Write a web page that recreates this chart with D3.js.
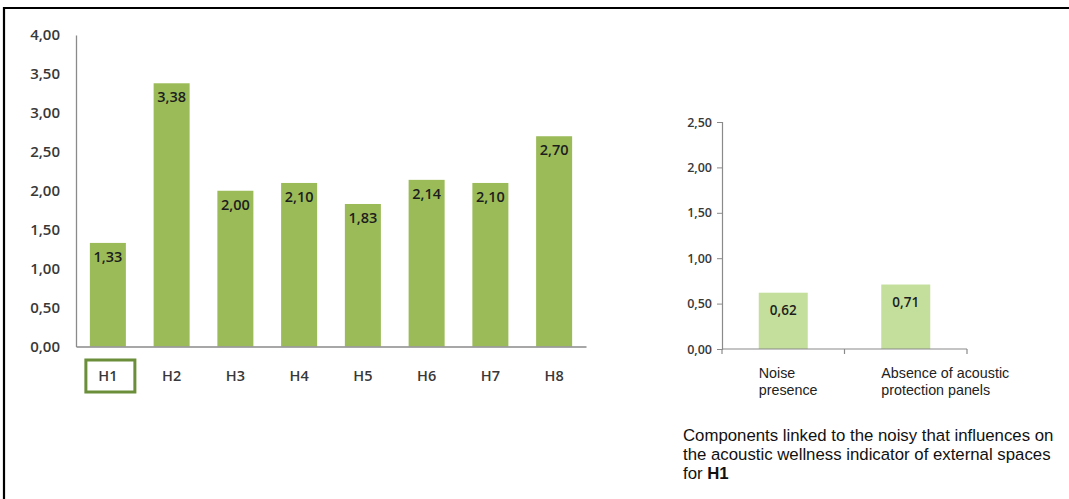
<!DOCTYPE html>
<html>
<head>
<meta charset="utf-8">
<script src="https://cdn.jsdelivr.net/npm/d3@7"></script>
<style>
  html, body { margin: 0; padding: 0; background: #fff; }
  svg { display: block; }
</style>
</head>
<body>
<svg id="chart" width="1069" height="499"></svg>
<script>
// Acoustic wellness indicator per house
const houses = ["H1", "H2", "H3", "H4", "H5", "H6", "H7", "H8"];
const houseValues = [1.33, 3.38, 2.00, 2.10, 1.83, 2.14, 2.10, 2.70];
const mainTicks = [0, 0.5, 1, 1.5, 2, 2.5, 3, 3.5, 4];

// Noise components for the highlighted house
const components = [["Noise", "presence"], ["Absence of acoustic", "protection panels"]];
const componentValues = [0.62, 0.71];
const detailTicks = [0, 0.5, 1, 1.5, 2, 2.5];

const highlighted = "H1";
const captionLines = [
  "Components linked to the noisy that influences on",
  "the acoustic wellness indicator of external spaces",
  "for "
];

const fmt = v => d3.format(".2f")(v).replace(".", ",");
const svg = d3.select("#chart");
const tickFont = "'Open Sans', Lato, sans-serif";
const tickWeight = 600;
const sansFont = "'Liberation Sans', Arial, sans-serif";

// frame
svg.append("path")
  .attr("d", "M4,499 V8 H1069")
  .attr("fill", "none").attr("stroke", "#000").attr("stroke-width", 2.2);

// ---- main chart ----
const m = { left: 76, right: 586, top: 35, bottom: 346.5 };
const x1 = d3.scaleBand().domain(houses).range([m.left, m.right]).paddingInner(0.435).paddingOuter(0.2175);
const y1 = d3.scaleLinear().domain([0, 4]).range([m.bottom, m.top]);

const g1 = svg.append("g");

g1.selectAll("rect.bar").data(houses).join("rect")
  .attr("class", "bar")
  .attr("x", d => x1(d))
  .attr("width", x1.bandwidth())
  .attr("y", (d, i) => y1(houseValues[i]))
  .attr("height", (d, i) => y1(0) - y1(houseValues[i]))
  .attr("fill", "#9BBB59");

g1.selectAll("text.val").data(houses).join("text")
  .attr("class", "val")
  .attr("x", d => x1(d) + x1.bandwidth() / 2)
  .attr("y", (d, i) => y1(houseValues[i]) + 19)
  .attr("text-anchor", "middle")
  .attr("font-family", tickFont)
  .attr("font-weight", tickWeight)
  .attr("font-size", 14.5)
  .attr("fill", "#1d1d1d")
  .text((d, i) => fmt(houseValues[i]));

const ya1 = g1.append("g")
  .attr("transform", `translate(${m.left},0)`)
  .call(d3.axisLeft(y1).tickValues(mainTicks).tickFormat(fmt).tickSize(0).tickPadding(16));
ya1.select(".domain").attr("stroke", "#8a8a8a").attr("stroke-width", 1.3);
ya1.selectAll("text").attr("font-family", tickFont).attr("font-weight", tickWeight)
  .attr("font-size", 15).attr("fill", "#383838");

const xa1 = g1.append("g")
  .attr("transform", `translate(0,${m.bottom})`)
  .call(d3.axisBottom(x1).tickSize(0).tickPadding(24));
xa1.select(".domain").attr("stroke", "#8a8a8a").attr("stroke-width", 1.5);
xa1.selectAll("text").attr("font-family", tickFont).attr("font-weight", tickWeight)
  .attr("font-size", 14.5).attr("fill", "#383838");

// highlight box around the selected house label
g1.append("rect")
  .attr("x", x1(highlighted) + x1.bandwidth() / 2 - 22)
  .attr("y", 360)
  .attr("width", 49)
  .attr("height", 32)
  .attr("fill", "none")
  .attr("stroke", "#6B8E3A")
  .attr("stroke-width", 3);

// ---- detail chart ----
const d = { left: 722, right: 967, top: 122, bottom: 349 };
const x2 = d3.scaleBand().domain(d3.range(components.length)).range([d.left, d.right]).paddingInner(0.6).paddingOuter(0.3);
const y2 = d3.scaleLinear().domain([0, 2.5]).range([d.bottom, d.top]);

const g2 = svg.append("g");

g2.selectAll("rect.bar").data(componentValues).join("rect")
  .attr("class", "bar")
  .attr("x", (v, i) => x2(i))
  .attr("width", x2.bandwidth())
  .attr("y", v => y2(v))
  .attr("height", v => y2(0) - y2(v))
  .attr("fill", "#C3DF9B");

g2.selectAll("text.val").data(componentValues).join("text")
  .attr("class", "val")
  .attr("x", (v, i) => x2(i) + x2.bandwidth() / 2)
  .attr("y", v => y2(v) + 22)
  .attr("text-anchor", "middle")
  .attr("font-family", tickFont)
  .attr("font-weight", tickWeight)
  .attr("font-size", 13.5)
  .attr("fill", "#1d1d1d")
  .text(v => fmt(v));

const ya2 = g2.append("g")
  .attr("transform", `translate(${d.left},0)`)
  .call(d3.axisLeft(y2).tickValues(detailTicks).tickFormat(fmt).tickSize(5).tickPadding(5));
ya2.select(".domain").attr("stroke", "#8a8a8a").attr("stroke-width", 1.2);
ya2.selectAll(".tick line").attr("stroke", "#8a8a8a");
ya2.selectAll("text").attr("font-family", tickFont).attr("font-weight", tickWeight)
  .attr("font-size", 12.5).attr("fill", "#383838");

// x axis with ticks at band boundaries
const xa2 = g2.append("g").attr("transform", `translate(0,${d.bottom})`);
xa2.append("line").attr("x1", d.left).attr("x2", d.right).attr("stroke", "#8a8a8a").attr("stroke-width", 1.2);
const bounds = [d.left, (d.left + d.right) / 2, d.right];
xa2.selectAll("line.tk").data(bounds).join("line")
  .attr("class", "tk")
  .attr("x1", b => b).attr("x2", b => b).attr("y1", 0).attr("y2", 5)
  .attr("stroke", "#8a8a8a").attr("stroke-width", 1.2);

components.forEach((lines, i) => {
  const t = g2.append("text")
    .attr("x", x2(i))
    .attr("y", 378)
    .attr("font-family", sansFont)
    .attr("font-size", 14.3)
    .attr("fill", "#222");
  lines.forEach((ln, j) => {
    t.append("tspan").attr("x", x2(i)).attr("dy", j === 0 ? 0 : 17).text(ln);
  });
});

// caption
const cap = svg.append("text")
  .attr("x", 683)
  .attr("y", 441)
  .attr("font-family", sansFont)
  .attr("font-size", 16.8)
  .attr("fill", "#111");
captionLines.forEach((ln, j) => {
  cap.append("tspan").attr("x", 683).attr("dy", j === 0 ? 0 : 19).text(ln);
  if (j === captionLines.length - 1) {
    cap.append("tspan").attr("font-weight", "bold").text(highlighted);
  }
});
</script>
</body>
</html>
